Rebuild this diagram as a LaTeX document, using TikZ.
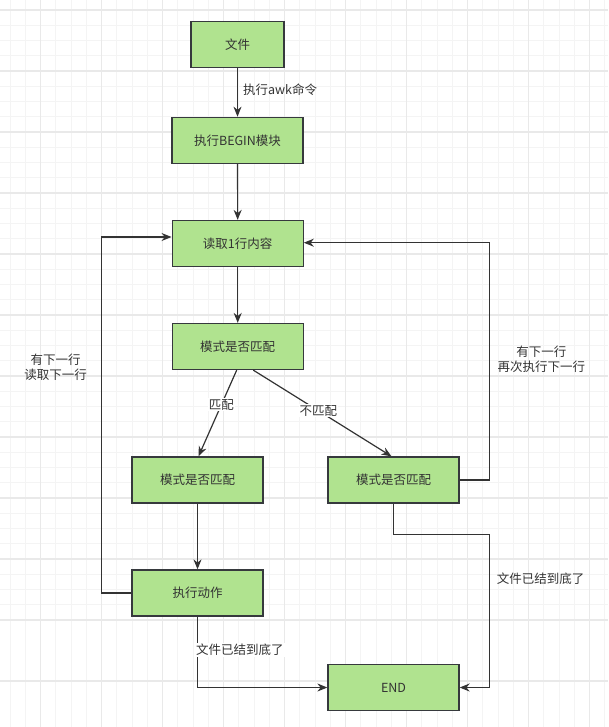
\documentclass[tikz,border=0pt]{standalone}
\usepackage{fontspec}
\setmainfont{Noto Sans CJK SC}
\usetikzlibrary{arrows.meta,positioning,calc}
\definecolor{boxgrn}{RGB}{176,227,143}
\definecolor{boxbdr}{RGB}{54,57,61}
\definecolor{txtclr}{RGB}{51,51,51}
\definecolor{lnclr}{RGB}{51,51,51}
\definecolor{grdmin}{RGB}{244,244,244}
\definecolor{grdmaj}{RGB}{233,233,233}
\tikzset{
  %% flow step block
  fblk/.style={rectangle,draw=boxbdr,fill=boxgrn,line width=1.3pt,
    minimum width=131pt,minimum height=46pt,
    font=\fontsize{12.5}{14}\selectfont,text=txtclr,inner sep=0pt},
  %% arrows
  arr/.style={-{Stealth[length=10pt,width=8pt]},line width=1.2pt,color=lnclr},
  %% edge labels
  lbl/.style={font=\fontsize{12.5}{15}\selectfont,text=txtclr,align=center,inner sep=1pt},
  wlbl/.style={lbl,fill=white},
  %% background grid
  gmin/.style={draw=grdmin,line width=1pt},
  gmaj/.style={draw=grdmaj,line width=1.2pt},
}

\begin{document}
\begin{tikzpicture}[x=1pt,y=-1pt]
  \useasboundingbox (0,0) rectangle (608,727);
  \fill[white] (0,0) rectangle (608,727);
  %% grid
  \foreach \i in {0,...,39} {
    \draw[gmin] (10.2+15.25*\i,0) -- ++(0,727);
    \draw[gmin] (0,10+15.25*\i) -- ++(608,0);
  }
  \foreach \i in {0,...,11} {
    \draw[gmaj] (40.7+61*\i,0) -- ++(0,727);
    \draw[gmaj] (0,10+61*\i) -- ++(608,0);
  }

  %% steps
  \node[fblk,minimum width=93pt] (file) at (237.5,44.5) {文件};
  \node[fblk] (begin) at (237.5,140.3) {执行BEGIN模块};
  \node[fblk] (read) at (237.7,243.5) {读取1行内容};
  \node[fblk] (match) at (237.7,346.5) {模式是否匹配};
  \node[fblk] (yes) at (197.5,480) {模式是否匹配};
  \node[fblk] (no) at (393.5,480) {模式是否匹配};
  \node[fblk] (act) at (197.5,593) {执行动作};
  \node[fblk] (endn) at (393.5,687.5) {END};
  \coordinate (rc) at (489.3,534.3);

  %% flow
  \draw[arr] (file) -- node[lbl,anchor=west,xshift=4pt,yshift=3pt] {执行awk命令} (begin);
  \draw[arr] (begin) -- (read);
  \draw[arr] (read) -- (match);
  \draw[arr] ([xshift=-1pt]match.south) -- node[wlbl,pos=0.4] {匹配} ([xshift=1pt]yes.north);
  \draw[arr] ([xshift=15.6pt]match.south) -- node[wlbl,pos=0.47] {不匹配} ([xshift=-2pt]no.north);
  \draw[arr] (yes) -- (act);
  \draw[arr] (act.west) -- ++(-30,0) |- ([yshift=6.5pt]read.west);
  \draw[arr] (no.east) -- ++(29.6,0) |- ([yshift=0.8pt]read.east);
  \draw[arr] (no.south) |- (rc) |- (endn.east);
  \draw[arr] (act.south) |- (endn.west);

  %% labels
  \node[lbl] (lnext) at (55.5,367.5) {有下一行\\读取下一行};
  \node[lbl] (rnext) at (541.3,359.5) {有下一行\\再次执行下一行};
  \node[lbl,anchor=west] (reof) at (495.7,578.3) {文件已结到底了};
  \node[wlbl,anchor=west] (leof) at (195,650) {文件已结到底了};
\end{tikzpicture}
\end{document}
